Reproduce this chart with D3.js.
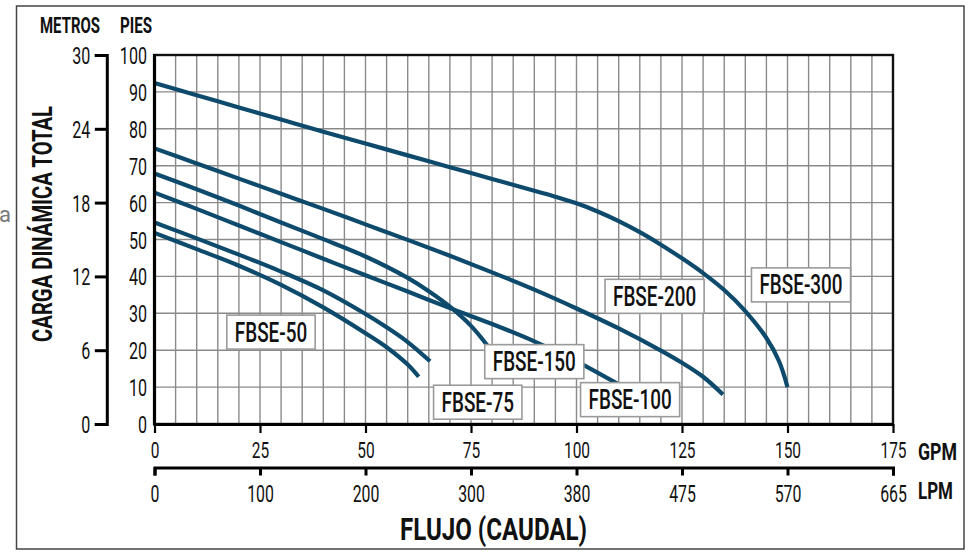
<!DOCTYPE html>
<html><head><meta charset="utf-8">
<script src="https://cdn.jsdelivr.net/npm/d3@7/dist/d3.min.js"></script>
<style>body{margin:0;background:#fff;} svg{display:block;font-family:Roboto,"Liberation Sans",sans-serif;}</style>
</head><body><svg id="c" width="968" height="555"></svg>
<script>
// ---- tick labels ----
const gpmTicks = [0, 25, 50, 75, 100, 125, 150, 175];
const lpmTickLabels = ["0", "100", "200", "300", "380", "475", "570", "665"];
const piesTicks = [0, 10, 20, 30, 40, 50, 60, 70, 80, 90, 100];
const metrosTicks = [0, 6, 12, 18, 24, 30];

// ---- series (GPM, feet of head) ----
const fbse50Gpm = [0, 10, 20, 30, 40, 50, 55, 60, 62.6];
const fbse50Ft  = [51.8, 47.4, 42.9, 37.7, 31.6, 24.6, 20.8, 16.1, 12.8];
const fbse75Gpm = [0, 10, 20, 30, 40, 50, 55, 60, 65.3];
const fbse75Ft  = [54.6, 50.3, 45.9, 41.3, 36.2, 29.8, 26.2, 22.2, 17.0];
const fbse100Gpm = [0, 10, 20, 30, 40, 50, 60, 70, 80, 90, 100, 109.6];
const fbse100Ft  = [62.7, 58.3, 53.8, 49.3, 44.8, 40.3, 35.9, 31.4, 27.1, 22.4, 17.0, 11.0];
const fbse150Gpm = [0, 10, 20, 30, 40, 50, 60, 65, 70, 75, 78.8];
const fbse150Ft  = [67.9, 63.6, 59.2, 54.6, 50.1, 45.4, 39.6, 36.0, 31.8, 26.6, 21.4];
const fbse200Gpm = [0, 10, 20, 30, 40, 50, 60, 70, 80, 90, 100, 110, 120, 125, 130, 134.7];
const fbse200Ft  = [74.7, 70.6, 66.5, 62.4, 58.3, 54.1, 49.9, 45.6, 41.1, 36.4, 31.3, 25.9, 19.9, 16.6, 12.8, 8.0];
const fbse300Gpm = [0, 10, 20, 30, 40, 50, 60, 70, 80, 90, 95, 100, 105, 110, 115, 120, 125, 130, 135, 140, 145, 148, 150];
const fbse300Ft  = [92.4, 89.1, 85.8, 82.5, 79.2, 76.0, 72.8, 69.6, 66.4, 63.2, 61.6, 59.8, 57.6, 55.0, 52.0, 48.6, 44.9, 40.9, 36.3, 30.6, 23.3, 17.0, 10.0];

const curveNames = ["FBSE-50", "FBSE-75", "FBSE-100", "FBSE-150", "FBSE-200", "FBSE-300"];
// label anchors, in data units (GPM, feet)
const labelGpm = [27.6, 76.6, 112.7, 90.0, 118.5, 153.2];
const labelFt  = [24.9, 5.9, 6.6, 16.9, 34.6, 37.7];

const seriesGpm = [fbse50Gpm, fbse75Gpm, fbse100Gpm, fbse150Gpm, fbse200Gpm, fbse300Gpm];
const seriesFt  = [fbse50Ft, fbse75Ft, fbse100Ft, fbse150Ft, fbse200Ft, fbse300Ft];

// ---- layout ----
const svg = d3.select("#c");
const L = 154.5, R = 893, T = 55, B = 424;
const x = d3.scaleLinear().domain([0, 175]).range([L, R]);
const y = d3.scaleLinear().domain([0, 100]).range([B, T]);
const yM = d3.scaleLinear().domain([0, 30]).range([B, T]);
const lineColor = "#0e4a6c";

function condense(sel, sx) {
  sel.each(function () {
    const t = d3.select(this);
    const xx = +t.attr("x") || 0;
    t.attr("x", xx / sx).attr("transform", `scale(${sx},1)`);
  });
}
function label(parent, px, py, str, o) {
  const g = parent.append("g").attr("transform", `translate(${px},${py})` + (o.rotate ? ` rotate(${o.rotate})` : ""));
  const t = g.append("text").text(str)
    .attr("font-size", o.size).attr("font-weight", o.weight || 400)
    .attr("text-anchor", o.anchor || "start").attr("fill", o.fill || "#111");
  let sx = o.sx || 1;
  if (o.len) sx = o.len / t.node().getComputedTextLength();
  if (sx !== 1) t.attr("transform", `scale(${sx},1)`);
  return t;
}

// outer border
svg.append("rect").attr("x", 16.5).attr("y", 6).attr("width", 947.5).attr("height", 543)
  .attr("fill", "none").attr("stroke", "#444").attr("stroke-width", 1.5);
// stray letter at left edge
label(svg, -1, 222, "a", {size: 22, fill: "#777"});

// grid
const grid = svg.append("g").attr("stroke", "#8a8a8a").attr("stroke-width", 1.4);
grid.selectAll("line.v").data(d3.range(5, 175, 5)).join("line")
  .attr("x1", d => x(d)).attr("x2", d => x(d)).attr("y1", T).attr("y2", B);
grid.selectAll("line.h").data(d3.range(10, 100, 10)).join("line").attr("class", "h")
  .attr("x1", L).attr("x2", R).attr("y1", d => y(d)).attr("y2", d => y(d));

// curves
const line = d3.line().x(d => x(d[0])).y(d => y(d[1])).curve(d3.curveCatmullRom.alpha(0.5));
seriesGpm.forEach((g, i) => {
  svg.append("path").datum(g.map((v, j) => [v, seriesFt[i][j]]))
    .attr("d", line).attr("fill", "none").attr("stroke", lineColor).attr("stroke-width", 4.2);
});

// curve labels
curveNames.forEach((n, i) => {
  const g = svg.append("g").attr("transform", `translate(${x(labelGpm[i])},${y(labelFt[i])})`);
  const r = g.append("rect").attr("fill", "#fff").attr("stroke", "#9a9a9a").attr("stroke-width", 1.6);
  const t = g.append("text").text(n).attr("font-size", 27).attr("font-weight", 500)
    .attr("text-anchor", "middle").attr("dy", "0.355em").attr("fill", "#111")
    .attr("transform", "scale(0.70,1)");
  const w = t.node().getComputedTextLength() * 0.70;
  r.attr("x", -w / 2 - 8).attr("y", -17).attr("width", w + 16).attr("height", 34);
});

// plot frame
svg.append("rect").attr("x", L).attr("y", T).attr("width", R - L).attr("height", B - T)
  .attr("fill", "none").attr("stroke", "#111").attr("stroke-width", 2.4);

// PIES axis (labels only)
const ay = svg.append("g").attr("transform", `translate(${L},0)`)
  .call(d3.axisLeft(y).tickValues(piesTicks).tickSize(0).tickPadding(7.5));
ay.select(".domain").remove();
ay.selectAll("text").attr("font-size", 23).attr("font-family", "Roboto").attr("fill", "#111").attr("dy", "0.37em");
condense(ay.selectAll("text"), 0.70);
svg.append("line").attr("x1", L).attr("x2", L).attr("y1", T - 1).attr("y2", B + 1.5)
  .attr("stroke", "#000").attr("stroke-width", 3.2);

// METROS axis
const am = svg.append("g").attr("transform", "translate(106.8,0)")
  .call(d3.axisLeft(yM).tickValues(metrosTicks).tickSize(12).tickSizeOuter(12).tickPadding(4.5));
am.select(".domain").attr("stroke", "#000").attr("stroke-width", 3);
am.selectAll(".tick line").attr("stroke", "#000").attr("stroke-width", 3);
am.selectAll("text").attr("font-size", 23).attr("font-family", "Roboto").attr("fill", "#111").attr("dy", "0.37em");
condense(am.selectAll("text"), 0.70);

// GPM axis
const ag = svg.append("g").attr("transform", `translate(0,${B})`)
  .call(d3.axisBottom(x).tickValues(gpmTicks).tickSize(9).tickSizeOuter(0));
ag.select(".domain").attr("stroke", "#000").attr("stroke-width", 3.2);
ag.selectAll(".tick line").attr("stroke", "#000").attr("stroke-width", 2.2);
ag.selectAll("text").attr("font-size", 21.5).attr("font-family", "Roboto").attr("fill", "#111")
  .attr("y", 34).attr("dy", 0);
condense(ag.selectAll("text"), 0.72);

// LPM axis
const al = svg.append("g").attr("transform", "translate(0,467.5)")
  .call(d3.axisBottom(x).tickValues(gpmTicks).tickFormat((d, i) => lpmTickLabels[i])
    .tickSize(8).tickSizeOuter(8));
al.select(".domain").attr("stroke", "#000").attr("stroke-width", 3);
al.selectAll(".tick line").attr("stroke", "#000").attr("stroke-width", 3);
al.selectAll("text").attr("font-size", 24).attr("font-family", "Roboto").attr("fill", "#111")
  .attr("y", 34.5).attr("dy", 0);
condense(al.selectAll("text"), 0.66);

// unit labels and titles
label(svg, 40, 33, "METROS", {size: 22.5, weight: 700, len: 60});
label(svg, 120, 33, "PIES", {size: 22.5, weight: 700, len: 32});
label(svg, 918, 460, "GPM", {size: 24, weight: 700, len: 39});
label(svg, 918, 499, "LPM", {size: 24, weight: 700, len: 35});
label(svg, 493.5, 540, "FLUJO (CAUDAL)", {size: 31, weight: 700, anchor: "middle", len: 187});
label(svg, 51.5, 224, "CARGA DINÁMICA TOTAL", {size: 28, weight: 700, anchor: "middle", len: 236, rotate: -90});
</script></body></html>
